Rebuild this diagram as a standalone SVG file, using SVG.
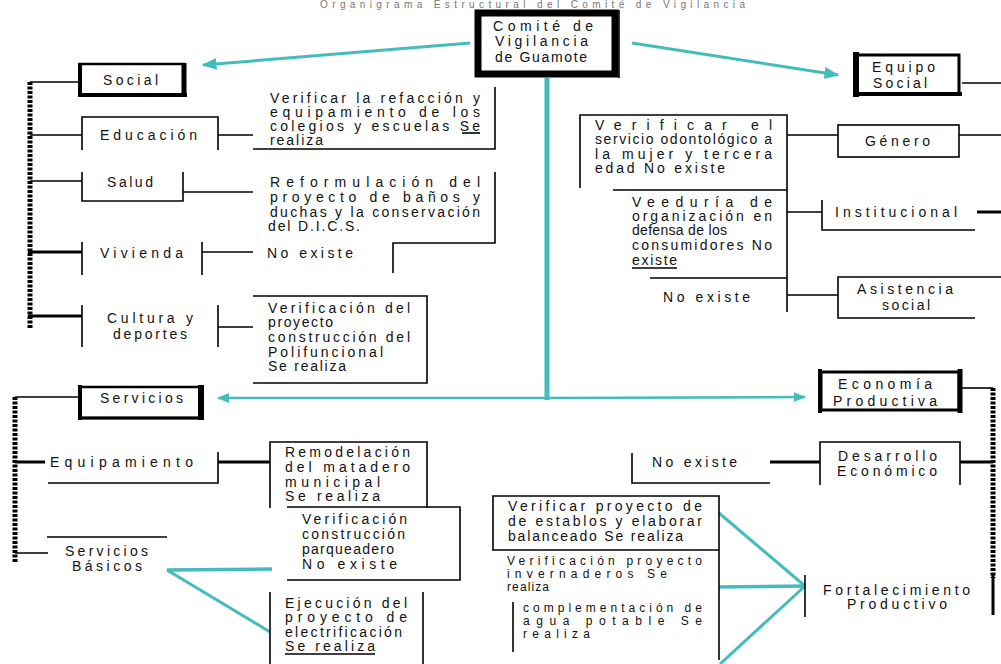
<svg xmlns="http://www.w3.org/2000/svg" width="1001" height="664" viewBox="0 0 1001 664">
<defs>
<style>
text{font-family:"Liberation Sans","DejaVu Sans",sans-serif;font-size:14px;fill:#111}
.sm text{font-size:12px}
.ln{stroke:#000;stroke-width:1.6;fill:none}
.tk{stroke:#000;stroke-width:3;fill:none}
.bar{stroke:#000;stroke-width:5;stroke-dasharray:3 1.5;fill:none}
.tl{stroke:#45bcbc;fill:none}
.box{fill:#fff;stroke:#000;stroke-width:1.6}
.ttl{font-size:10px;fill:#777}
</style>
<marker id="ah" viewBox="0 0 10 10" refX="9" refY="5" markerWidth="5" markerHeight="5" orient="auto">
<path d="M0,1 L10,5 L0,9 z" fill="#45bcbc"/>
</marker>
</defs>
<rect width="1001" height="664" fill="#fff"/>
<text class="ttl" x="320" y="8" textLength="425" lengthAdjust="spacing">Organigrama Estructural del Comité de Vigilancia</text>

<g id="connectors">
<line class="tl" x1="470" y1="43" x2="203" y2="65" stroke-width="3" marker-end="url(#ah)"/>
<line class="tl" x1="632" y1="43" x2="838" y2="75" stroke-width="3" marker-end="url(#ah)"/>
<line class="tl" x1="547" y1="78" x2="547" y2="400" stroke-width="5"/>
<line class="tl" x1="547" y1="398" x2="218" y2="398" stroke-width="2.5" marker-end="url(#ah)"/>
<line class="tl" x1="547" y1="398" x2="805" y2="397" stroke-width="2.5" marker-end="url(#ah)"/>
<line class="tl" x1="167" y1="570" x2="272" y2="569" stroke-width="3.5"/>
<line class="tl" x1="167" y1="570" x2="270" y2="632" stroke-width="3"/>
<line class="tl" x1="719" y1="513" x2="805" y2="586" stroke-width="3"/>
<line class="tl" x1="719" y1="587" x2="805" y2="586" stroke-width="3.5"/>
<line class="tl" x1="720" y1="664" x2="805" y2="586" stroke-width="3"/>
<line class="bar" x1="30" y1="82" x2="30" y2="328"/>
<line class="ln" x1="30" y1="82" x2="78" y2="82"/>
<line class="ln" x1="30" y1="135" x2="82" y2="135"/>
<line class="ln" x1="30" y1="181" x2="82" y2="181"/>
<line class="tk" x1="28" y1="252" x2="82" y2="252"/>
<line class="tk" x1="28" y1="316" x2="82" y2="316"/>
<line class="ln" x1="218" y1="135" x2="253" y2="135"/>
<line class="ln" x1="183" y1="192" x2="253" y2="192"/>
<line class="ln" x1="202" y1="252" x2="253" y2="252"/>
<line class="ln" x1="218" y1="327" x2="253" y2="327"/>
<line class="bar" x1="15" y1="397" x2="15" y2="563"/>
<line class="ln" x1="15" y1="397" x2="78" y2="397"/>
<line class="tk" x1="15" y1="462" x2="45" y2="462"/>
<line class="ln" x1="15" y1="553" x2="48" y2="553"/>
<line class="tk" x1="218" y1="462" x2="270" y2="462"/>
<line class="ln" x1="962" y1="83" x2="1001" y2="83"/>
<line class="ln" x1="787" y1="135" x2="838" y2="135"/>
<line class="ln" x1="959" y1="135" x2="1001" y2="135"/>
<line class="ln" x1="787" y1="212" x2="822" y2="212"/>
<line class="tk" x1="977" y1="212" x2="1001" y2="212"/>
<line class="ln" x1="787" y1="295" x2="838" y2="295"/>
<line class="ln" x1="962" y1="388" x2="993" y2="388"/>
<line class="bar" x1="993" y1="388" x2="993" y2="578"/>
<line class="tk" x1="993" y1="575" x2="993" y2="615"/>
<line class="tk" x1="960" y1="462" x2="993" y2="462"/>
<line class="tk" x1="770" y1="462" x2="820" y2="462"/>
</g>

<g id="n-comite">
<rect x="478" y="13" width="137" height="61" fill="#fff" stroke="#000" stroke-width="7"/>
<line class="ln" x1="619" y1="10" x2="619" y2="78"/>
<text x="493" y="31" textLength="100" lengthAdjust="spacing">Comité de</text>
<text x="495" y="46" textLength="93" lengthAdjust="spacing">Vigilancia</text>
<text x="495" y="62" textLength="92" lengthAdjust="spacing">de Guamote</text>
</g>

<g id="n-social">
<rect x="80" y="64" width="104" height="31" fill="#fff" stroke="#000" stroke-width="2.5"/>
<line x1="80" y1="63" x2="80" y2="97" stroke="#000" stroke-width="4"/>
<line x1="184" y1="63" x2="184" y2="97" stroke="#000" stroke-width="5"/>
<line x1="78" y1="95" x2="187" y2="95" stroke="#000" stroke-width="4"/>
<text x="103" y="85" textLength="55" lengthAdjust="spacing">Social</text>
</g>

<g id="n-educacion">
<path class="ln" d="M82,150 V117 H218 V150"/>
<text x="100" y="140" textLength="97" lengthAdjust="spacing">Educación</text>
</g>
<g id="t-educacion">
<path class="ln" d="M253,149 H495 V87"/>
<text x="270" y="103" textLength="210" lengthAdjust="spacing">Verificar la refacción y</text>
<text x="270" y="117" textLength="210" lengthAdjust="spacing">equipamiento de los</text>
<text x="270" y="131" textLength="210" lengthAdjust="spacing">colegios y escuelas Se</text>
<line class="ln" x1="462" y1="133" x2="480" y2="133" stroke-width="1"/>
<text x="270" y="145" textLength="53" lengthAdjust="spacing">realiza</text>
</g>

<g id="n-salud">
<path class="ln" d="M82,172 V201 H183 V172"/>
<text x="107" y="187" textLength="46" lengthAdjust="spacing">Salud</text>
</g>
<g id="t-salud">
<path class="ln" d="M495,172 V243 H393 V273"/>
<text x="270" y="187" textLength="210" lengthAdjust="spacing">Reformulación del</text>
<text x="270" y="202" textLength="210" lengthAdjust="spacing">proyecto de baños y</text>
<text x="270" y="217" textLength="210" lengthAdjust="spacing">duchas y la conservación</text>
<text x="268" y="231" textLength="92" lengthAdjust="spacing">del D.I.C.S.</text>
</g>

<g id="n-vivienda">
<line class="ln" x1="82" y1="242" x2="82" y2="275"/>
<line class="ln" x1="202" y1="242" x2="202" y2="275"/>
<text x="100" y="258" textLength="83" lengthAdjust="spacing">Vivienda</text>
</g>
<g id="t-vivienda">
<text x="267" y="258" textLength="86" lengthAdjust="spacing">No existe</text>
</g>

<g id="n-cultura">
<line class="ln" x1="82" y1="305" x2="82" y2="347"/>
<line class="ln" x1="218" y1="305" x2="218" y2="347"/>
<text x="107" y="323" textLength="86" lengthAdjust="spacing">Cultura y</text>
<text x="113" y="339" textLength="74" lengthAdjust="spacing">deportes</text>
</g>
<g id="t-cultura">
<path class="ln" d="M253,296 H427 V383 H253"/>
<text x="268" y="313" textLength="142" lengthAdjust="spacing">Verificación del</text>
<text x="268" y="327" textLength="65" lengthAdjust="spacing">proyecto</text>
<text x="268" y="342" textLength="142" lengthAdjust="spacing">construcción del</text>
<text x="268" y="357" textLength="115" lengthAdjust="spacing">Polifuncional</text>
<text x="268" y="371" textLength="78" lengthAdjust="spacing">Se realiza</text>
</g>

<g id="n-servicios">
<rect x="80" y="387" width="122" height="31" fill="#fff" stroke="#000" stroke-width="2.5"/>
<line x1="80" y1="385" x2="80" y2="420" stroke="#000" stroke-width="4"/>
<line x1="201" y1="385" x2="201" y2="420" stroke="#000" stroke-width="6"/>
<line x1="78" y1="418" x2="204" y2="418" stroke="#000" stroke-width="3"/>
<text x="100" y="403" textLength="83" lengthAdjust="spacing">Servicios</text>
</g>

<g id="n-equipamiento">
<path class="ln" d="M48,483 H218 V452"/>
<text x="50" y="467" textLength="143" lengthAdjust="spacing">Equipamiento</text>
</g>
<g id="t-equipamiento">
<path class="ln" d="M270,508 V442 H427 V508"/>
<text x="285" y="457" textLength="125" lengthAdjust="spacing">Remodelación</text>
<text x="285" y="472" textLength="125" lengthAdjust="spacing">del matadero</text>
<text x="285" y="487" textLength="95" lengthAdjust="spacing">municipal</text>
<text x="285" y="501" textLength="95" lengthAdjust="spacing">Se realiza</text>
</g>
<g id="t-parqueadero">
<path class="ln" d="M287,507 H460 V580 H287"/>
<text x="302" y="524" textLength="105" lengthAdjust="spacing">Verificación</text>
<text x="302" y="539" textLength="103" lengthAdjust="spacing">construcción</text>
<text x="302" y="554" textLength="92" lengthAdjust="spacing">parqueadero</text>
<text x="302" y="569" textLength="95" lengthAdjust="spacing">No existe</text>
</g>

<g id="n-basicos">
<line class="ln" x1="47" y1="537" x2="167" y2="537"/>
<text x="65" y="556" textLength="83" lengthAdjust="spacing">Servicios</text>
<text x="72" y="571" textLength="70" lengthAdjust="spacing">Básicos</text>
</g>
<g id="t-electrificacion">
<line class="ln" x1="270" y1="592" x2="270" y2="664"/>
<line class="ln" x1="423" y1="592" x2="423" y2="664"/>
<text x="285" y="608" textLength="122" lengthAdjust="spacing">Ejecución del</text>
<text x="285" y="622" textLength="122" lengthAdjust="spacing">proyecto de</text>
<text x="285" y="637" textLength="117" lengthAdjust="spacing">electrificación</text>
<text x="285" y="651" textLength="90" lengthAdjust="spacing">Se realiza</text>
<line class="ln" x1="285" y1="654" x2="375" y2="654" stroke-width="1"/>
</g>

<g id="n-equipo">
<rect x="855" y="55" width="104" height="39" fill="#fff" stroke="#000" stroke-width="3"/>
<line x1="856" y1="52" x2="856" y2="97" stroke="#000" stroke-width="6"/>
<line x1="853" y1="94" x2="962" y2="94" stroke="#000" stroke-width="4"/>
<text x="872" y="72" textLength="63" lengthAdjust="spacing">Equipo</text>
<text x="873" y="88" textLength="54" lengthAdjust="spacing">Social</text>
</g>

<g id="t-odontologico">
<path class="ln" d="M580,188 V115 H787 V312"/>
<text x="595" y="130" textLength="177" lengthAdjust="spacing">Verificar el</text>
<text x="595" y="144" textLength="177" lengthAdjust="spacing">servicio odontológico a</text>
<text x="595" y="159" textLength="177" lengthAdjust="spacing">la mujer y tercera</text>
<text x="595" y="173" textLength="130" lengthAdjust="spacing">edad No existe</text>
</g>
<g id="n-genero">
<rect class="box" x="838" y="125" width="121" height="32"/>
<text x="865" y="146" textLength="65" lengthAdjust="spacing">Género</text>
</g>

<g id="t-veeduria">
<line class="ln" x1="613" y1="190" x2="787" y2="190"/>
<line class="ln" x1="650" y1="278" x2="787" y2="278"/>
<text x="632" y="207" textLength="140" lengthAdjust="spacing">Veeduría de</text>
<text x="632" y="221" textLength="140" lengthAdjust="spacing">organización en</text>
<text x="632" y="235" textLength="95" lengthAdjust="spacing">defensa de los</text>
<text x="632" y="250" textLength="140" lengthAdjust="spacing">consumidores No</text>
<text x="632" y="265" textLength="45" lengthAdjust="spacing">existe</text>
<line class="ln" x1="632" y1="268" x2="677" y2="268" stroke-width="1"/>
</g>
<g id="n-institucional">
<path class="ln" d="M822,200 V230 H975"/>
<text x="835" y="217" textLength="122" lengthAdjust="spacing">Institucional</text>
</g>
<g id="t-noexiste2">
<text x="663" y="302" textLength="87" lengthAdjust="spacing">No existe</text>
</g>
<g id="n-asistencia">
<path class="ln" d="M1001,277 H838 V318 H975"/>
<text x="857" y="294" textLength="96" lengthAdjust="spacing">Asistencia</text>
<text x="882" y="310" textLength="48" lengthAdjust="spacing">social</text>
</g>

<g id="n-economia">
<rect x="821" y="372" width="138" height="38" fill="#fff" stroke="#000" stroke-width="3"/>
<line x1="820" y1="369" x2="820" y2="413" stroke="#000" stroke-width="4"/>
<line x1="960" y1="369" x2="960" y2="413" stroke="#000" stroke-width="5"/>
<text x="838" y="389" textLength="94" lengthAdjust="spacing">Economía</text>
<text x="833" y="406" textLength="104" lengthAdjust="spacing">Productiva</text>
</g>
<g id="n-desarrollo">
<path class="ln" d="M820,485 V442 H960 V485"/>
<text x="838" y="461" textLength="99" lengthAdjust="spacing">Desarrollo</text>
<text x="837" y="476" textLength="100" lengthAdjust="spacing">Económico</text>
</g>
<g id="t-noexiste3">
<path class="ln" d="M632,453 V483 H770"/>
<text x="652" y="467" textLength="85" lengthAdjust="spacing">No existe</text>
</g>

<g id="t-establos">
<path class="ln" d="M719,660 V496 H493 V550 H719"/>
<text x="508" y="511" textLength="194" lengthAdjust="spacing">Verificar proyecto de</text>
<text x="508" y="526" textLength="194" lengthAdjust="spacing">de establos y elaborar</text>
<text x="508" y="541" textLength="175" lengthAdjust="spacing">balanceado Se realiza</text>
</g>
<g id="t-invernadero" class="sm">
<text x="507" y="565" textLength="195" lengthAdjust="spacing">Verificación proyecto</text>
<text x="507" y="578" textLength="160" lengthAdjust="spacing">invernaderos Se</text>
<text x="507" y="591" textLength="42" lengthAdjust="spacing">realiza</text>
</g>
<g id="t-agua" class="sm">
<line class="ln" x1="513" y1="602" x2="513" y2="652"/>
<text x="523" y="612" textLength="179" lengthAdjust="spacing">complementación de</text>
<text x="523" y="625" textLength="179" lengthAdjust="spacing">agua potable Se</text>
<text x="523" y="638" textLength="67" lengthAdjust="spacing">realiza</text>
</g>

<g id="n-fortalecimiento">
<line class="ln" x1="805" y1="575" x2="805" y2="617"/>
<text x="823" y="595" textLength="147" lengthAdjust="spacing">Fortalecimiento</text>
<text x="847" y="609" textLength="100" lengthAdjust="spacing">Productivo</text>
</g>
</svg>
